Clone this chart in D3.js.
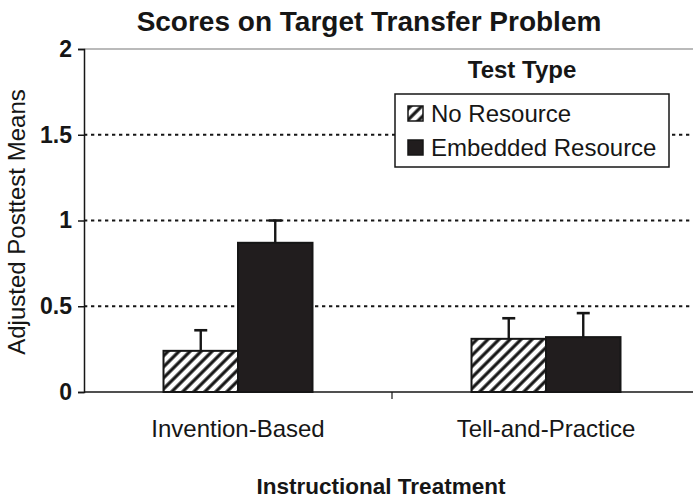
<!DOCTYPE html>
<html>
<head>
<meta charset="utf-8">
<script src="https://cdn.jsdelivr.net/npm/d3@7"></script>
<style>
  body { margin: 0; background: #fff; }
  text { font-family: "Liberation Sans", Arial, sans-serif; fill: #161616; }
</style>
</head>
<body>
<div id="chart"></div>
<script>
var categories = ["Invention-Based", "Tell-and-Practice"];
var series = ["No Resource", "Embedded Resource"];
var noResource = [0.24, 0.31];
var noResourceErr = [0.12, 0.12];
var embedded = [0.87, 0.32];
var embeddedErr = [0.13, 0.14];
var yTicks = [0, 0.5, 1, 1.5, 2];
var gridTicks = [0.5, 1, 1.5];

var width = 693, height = 498;
var margin = { top: 49, left: 84, bottom: 106 };
var plotRight = 700;

var svg = d3.select("#chart").append("svg")
    .attr("width", width)
    .attr("height", height);

var defs = svg.append("defs");
var pat = defs.append("pattern")
    .attr("id", "hatch")
    .attr("patternUnits", "userSpaceOnUse")
    .attr("width", 7.8)
    .attr("height", 7.8)
    .attr("patternTransform", "rotate(45)");
pat.append("rect").attr("width", 7.8).attr("height", 7.8).attr("fill", "#fff");
pat.append("line")
    .attr("x1", 2).attr("x2", 2)
    .attr("y1", 0).attr("y2", 7.8)
    .attr("stroke", "#161616")
    .attr("stroke-width", 3.2);

var y = d3.scaleLinear().domain([0, 2]).range([height - margin.bottom, margin.top]);
var x0 = d3.scaleBand().domain(categories).range([margin.left, plotRight]);
var groupW = 149;
var x1 = d3.scaleBand().domain(series).range([0, groupW]);

var fills = { "No Resource": "url(#hatch)", "Embedded Resource": "#211d1e" };

// title
svg.append("text")
    .attr("x", 369)
    .attr("y", 31)
    .attr("text-anchor", "middle")
    .style("font-size", "28px")
    .style("font-weight", "bold")
    .text("Scores on Target Transfer Problem");

// top border line
svg.append("line")
    .attr("x1", margin.left).attr("x2", width)
    .attr("y1", y(2)).attr("y2", y(2))
    .attr("stroke", "#777")
    .attr("stroke-width", 1.2);

// dotted gridlines
svg.selectAll(".grid")
    .data(gridTicks)
    .enter().append("line")
    .attr("class", "grid")
    .attr("x1", margin.left).attr("x2", width)
    .attr("y1", d => y(d)).attr("y2", d => y(d))
    .attr("stroke", "#161616")
    .attr("stroke-width", 2)
    .attr("stroke-dasharray", "3.3,3.7");

// bars
var rows = categories.map((c, i) => ({
    cat: c,
    boxes: [
        { name: series[0], v: noResource[i], e: noResourceErr[i] },
        { name: series[1], v: embedded[i], e: embeddedErr[i] }
    ]
}));

var groups = svg.selectAll(".grp")
    .data(rows)
    .enter().append("g")
    .attr("class", "grp")
    .attr("transform", d => "translate(" + (x0(d.cat) + (x0.bandwidth() - groupW) / 2) + ",0)");

var bars = groups.selectAll(".bar")
    .data(d => d.boxes)
    .enter().append("g").attr("class", "bar");

// error bars (upper only)
bars.append("line")
    .attr("x1", d => x1(d.name) + x1.bandwidth() / 2)
    .attr("x2", d => x1(d.name) + x1.bandwidth() / 2)
    .attr("y1", d => y(d.v))
    .attr("y2", d => y(d.v + d.e))
    .attr("stroke", "#161616")
    .attr("stroke-width", 2.4);
bars.append("line")
    .attr("x1", d => x1(d.name) + x1.bandwidth() / 2 - 6.5)
    .attr("x2", d => x1(d.name) + x1.bandwidth() / 2 + 6.5)
    .attr("y1", d => y(d.v + d.e))
    .attr("y2", d => y(d.v + d.e))
    .attr("stroke", "#161616")
    .attr("stroke-width", 2.6);

bars.append("rect")
    .attr("x", d => x1(d.name))
    .attr("y", d => y(d.v))
    .attr("width", x1.bandwidth())
    .attr("height", d => y(0) - y(d.v))
    .attr("fill", d => fills[d.name])
    .attr("stroke", "#161616")
    .attr("stroke-width", 2);

// baseline and category ticks
svg.append("line")
    .attr("x1", margin.left).attr("x2", width)
    .attr("y1", y(0)).attr("y2", y(0))
    .attr("stroke", "#161616")
    .attr("stroke-width", 1.5);
svg.selectAll(".ctick")
    .data(categories.slice(1))
    .enter().append("line")
    .attr("x1", d => x0(d)).attr("x2", d => x0(d))
    .attr("y1", y(0)).attr("y2", y(0) + 7)
    .attr("stroke", "#161616")
    .attr("stroke-width", 1.2);

// y axis
var yAxis = svg.append("g")
    .attr("transform", "translate(" + margin.left + ",0)")
    .call(d3.axisLeft(y).tickValues(yTicks).tickSize(6).tickPadding(6).tickFormat(d3.format("")));
yAxis.select(".domain").attr("stroke", "#161616").attr("stroke-width", 1.5);
yAxis.selectAll(".tick line").attr("stroke", "#161616").attr("stroke-width", 1.5);
yAxis.selectAll(".tick text")
    .style("font-size", "23px")
    .style("font-weight", "bold")
    .style("font-family", "'Liberation Sans', Arial, sans-serif")
    .attr("fill", "#161616");

// category labels
svg.selectAll(".clabel")
    .data(categories)
    .enter().append("text")
    .attr("class", "clabel")
    .attr("x", d => x0(d) + x0.bandwidth() / 2)
    .attr("y", 437)
    .attr("text-anchor", "middle")
    .style("font-size", "24px")
    .text(d => d);

// axis titles
svg.append("text")
    .attr("x", 381)
    .attr("y", 494)
    .attr("text-anchor", "middle")
    .style("font-size", "22.5px")
    .style("font-weight", "bold")
    .text("Instructional Treatment");

svg.append("text")
    .attr("transform", "translate(25,222) rotate(-90)")
    .attr("text-anchor", "middle")
    .style("font-size", "24px")
    .text("Adjusted Posttest Means");

// legend
svg.append("text")
    .attr("x", 522)
    .attr("y", 78)
    .attr("text-anchor", "middle")
    .style("font-size", "24px")
    .style("font-weight", "bold")
    .text("Test Type");

svg.append("rect")
    .attr("x", 395).attr("y", 94)
    .attr("width", 274).attr("height", 73)
    .attr("fill", "#fff")
    .attr("stroke", "#161616")
    .attr("stroke-width", 1.5);

var legend = svg.selectAll(".legend")
    .data(series)
    .enter().append("g")
    .attr("class", "legend")
    .attr("transform", (d, i) => "translate(408," + (106 + i * 34) + ")");
legend.append("rect")
    .attr("width", 15).attr("height", 15)
    .attr("fill", d => fills[d])
    .attr("stroke", "#161616")
    .attr("stroke-width", 1.5);
legend.append("text")
    .attr("x", 23)
    .attr("y", 16)
    .style("font-size", "24px")
    .text(d => d);
</script>
</body>
</html>
